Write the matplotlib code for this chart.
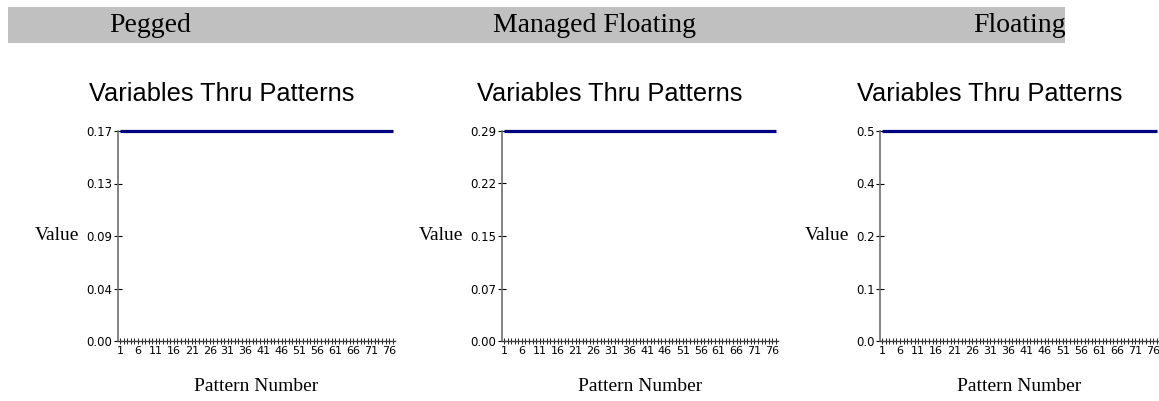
import numpy as np
import matplotlib
matplotlib.use('Agg')
import matplotlib.pyplot as plt
from matplotlib.patches import Rectangle

# regime names and the (constant) value of each chart
regimes = ['Pegged', 'Managed Floating', 'Floating']
n_patterns = 77
patterns = list(range(1, n_patterns + 1))
pegged_vals = [0.1714] * n_patterns
managed_vals = [0.2930] * n_patterns
floating_vals = [0.50] * n_patterns
series = [pegged_vals, managed_vals, floating_vals]
tick_fmt = ['{:.2f}', '{:.2f}', '{:.1f}']

fig = plt.figure(figsize=(11.59, 4.01), dpi=100)

# grey header band with the regime names
fig.patches.append(Rectangle((8 / 1159, 1 - 43 / 401), (1065 - 8) / 1159, 36 / 401,
                             transform=fig.transFigure, facecolor='#c0c0c0',
                             edgecolor='none', zorder=0))
header_x = [150, 595, 1020]
for name, hx in zip(regimes, header_x):
    fig.text(hx / 1159, 1 - 25 / 401, name, ha='center', va='center',
             fontsize=20, family='Liberation Serif')

ax_left = [118, 502, 880]
ax_right = [395, 778, 1159]
title_x = [222, 610, 990]
small = ['Liberation Sans Narrow', 'DejaVu Sans']

for i in range(3):
    vals = series[i]
    top = vals[0]
    ax = fig.add_axes([ax_left[i] / 1159, 1 - 341 / 401,
                       (ax_right[i] - ax_left[i]) / 1159, 210 / 401])
    ax.plot(patterns, vals, color='#000080', linewidth=2.3, clip_on=False,
            solid_capstyle='butt')
    ax.set_xlim(0.45, n_patterns + 0.6)
    ax.set_ylim(0, top)

    for side in ['top', 'right']:
        ax.spines[side].set_visible(False)
    ax.spines['left'].set_color('#707070')
    ax.spines['bottom'].set_color('#404040')
    ax.spines['left'].set_linewidth(1.2)
    ax.spines['bottom'].set_linewidth(1.0)

    yt = np.linspace(0, top, 5)
    ax.set_yticks(yt)
    ax.set_yticklabels([tick_fmt[i].format(v) for v in yt], family=small, fontsize=8.5)
    ax.set_xticks(patterns)
    ax.set_xticklabels([str(p) if (p - 1) % 5 == 0 else '' for p in patterns],
                       family=small, fontsize=8)
    ax.tick_params(axis='y', direction='inout', length=6, width=0.8, pad=1)
    ax.tick_params(axis='x', direction='inout', length=5, width=0.6, pad=1)

    fig.text(title_x[i] / 1159, 1 - 94 / 401, 'Variables Thru Patterns',
             ha='center', va='center', fontsize=18.3, family='Liberation Sans')
    ax.set_xlabel('Pattern Number', fontsize=14, family='Liberation Serif', labelpad=16)
    ax.set_ylabel('Value', fontsize=14, family='Liberation Serif', rotation=0,
                  ha='center', va='center', labelpad=21)

plt.savefig('out.png', dpi=100)
